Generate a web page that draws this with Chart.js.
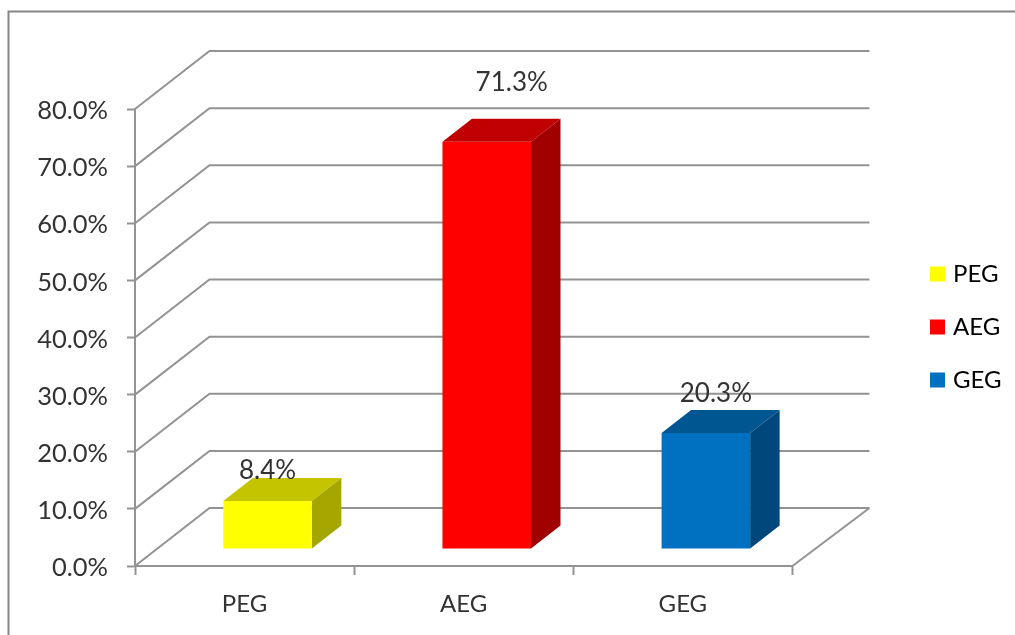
<!DOCTYPE html>
<html>
<head>
<meta charset="utf-8">
<title>PEG AEG GEG</title>
<script src="https://cdn.jsdelivr.net/npm/chart.js@4"></script>
<style>
  body { margin: 0; background: #fff; }
  canvas { display: block; }
</style>
</head>
<body>
<canvas id="myChart" width="1015" height="635"></canvas>
<script>
const categories = ['PEG', 'AEG', 'GEG'];
const values = [8.4, 71.3, 20.3];
const valueLabels = ['8.4%', '71.3%', '20.3%'];
const yTickLabels = ['0.0%', '10.0%', '20.0%', '30.0%', '40.0%', '50.0%', '60.0%', '70.0%', '80.0%'];

const frontColors = ['#ffff00', '#ff0000', '#0070c0'];
const topColors = ['#c4c400', '#c00000', '#005690'];
const sideColors = ['#a6a600', '#a00000', '#00487c'];

const fontName = 'Lato, "Open Sans", sans-serif';
const textColor = '#333333';
const lineColor = '#939393';

// the fake 3d: back wall offset, where the bars stand on the floor, and bar depth
const wall = { left: 74.5, right: 77, y: -58 };
const barShift = { x: 23, y: -17 };
const barDepth = { x: 29.5, y: -23 };
// the value labels do not sit the same distance from each bar in the original
const labelShiftX = [0, 25, 10];
const labelShiftY = [-30, -59, -39];

const cube3d = {
    id: 'cube3d',
    beforeDraw(chart) {
        // outer frame, only top and left are visible, the rest is cropped
        const ctx = chart.ctx;
        ctx.save();
        ctx.strokeStyle = '#868686';
        ctx.lineWidth = 2;
        ctx.beginPath();
        ctx.moveTo(8.5, chart.height);
        ctx.lineTo(8.5, 11.5);
        ctx.lineTo(chart.width, 11.5);
        ctx.stroke();
        ctx.restore();
    },
    beforeDatasetsDraw(chart) {
        const ctx = chart.ctx;
        const yScale = chart.scales.y;
        const area = chart.chartArea;
        ctx.save();
        ctx.strokeStyle = lineColor;
        ctx.lineWidth = 2;
        // side wall and back wall grid lines
        yScale.ticks.forEach(tick => {
            const y = yScale.getPixelForValue(tick.value);
            ctx.beginPath();
            ctx.moveTo(area.left, y);
            ctx.lineTo(area.left + wall.left, y + wall.y);
            ctx.lineTo(area.right + wall.right, y + wall.y);
            ctx.stroke();
        });
        // right edge of the floor
        const y0 = yScale.getPixelForValue(0);
        ctx.beginPath();
        ctx.moveTo(area.right, y0);
        ctx.lineTo(area.right + wall.right, y0 + wall.y);
        ctx.stroke();

        // top and side of each bar, the front is the real bar
        ctx.translate(barShift.x, barShift.y);
        chart.getDatasetMeta(0).data.forEach((bar, i) => {
            const left = bar.x - bar.width / 2;
            const right = bar.x + bar.width / 2;
            ctx.fillStyle = topColors[i];
            ctx.beginPath();
            ctx.moveTo(left, bar.y);
            ctx.lineTo(left + barDepth.x, bar.y + barDepth.y);
            ctx.lineTo(right + barDepth.x, bar.y + barDepth.y);
            ctx.lineTo(right, bar.y);
            ctx.closePath();
            ctx.fill();
            ctx.fillStyle = sideColors[i];
            ctx.beginPath();
            ctx.moveTo(right, bar.y);
            ctx.lineTo(right + barDepth.x, bar.y + barDepth.y);
            ctx.lineTo(right + barDepth.x, bar.base + barDepth.y);
            ctx.lineTo(right, bar.base);
            ctx.closePath();
            ctx.fill();
        });
    },
    afterDatasetsDraw(chart) {
        const ctx = chart.ctx;
        ctx.restore();
        // value labels
        ctx.save();
        ctx.font = '26px ' + fontName;
        ctx.fillStyle = textColor;
        ctx.textAlign = 'center';
        ctx.textBaseline = 'middle';
        chart.getDatasetMeta(0).data.forEach((bar, i) => {
            ctx.fillText(valueLabels[i], bar.x + barShift.x + labelShiftX[i], bar.y + barShift.y + labelShiftY[i]);
        });
        ctx.restore();
    },
    afterLayout(chart) {
        // put the legend where it is in the original, out to the right and a bit high
        const legend = chart.legend;
        legend.left = 905;
        legend.right = chart.width;
        legend.top = 233;
        legend.bottom = chart.height;
    }
};

const ctx = document.getElementById('myChart').getContext('2d');
const chart = new Chart(ctx, {
    type: 'bar',
    plugins: [cube3d],
    data: {
        labels: categories,
        datasets: [{
            data: values,
            backgroundColor: frontColors,
            borderWidth: 0,
            barPercentage: 0.404,
            categoryPercentage: 1
        }]
    },
    options: {
        responsive: false,
        animation: false,
        layout: { padding: { top: 109, right: 116, left: 0, bottom: 0 } },
        plugins: {
            tooltip: { enabled: false },
            legend: {
                position: 'right',
                align: 'start',
                labels: {
                    // point style keeps the 15px square but lets the text sit closer to it
                    usePointStyle: true,
                    pointStyle: 'rect',
                    boxWidth: 7,
                    boxHeight: 15,
                    padding: 29,
                    color: textColor,
                    font: { family: fontName, size: 24 },
                    generateLabels: () => categories.map((name, i) => ({
                        text: name,
                        fillStyle: frontColors[i],
                        strokeStyle: frontColors[i],
                        pointStyle: 'rect',
                        lineWidth: 0,
                        index: i
                    }))
                }
            }
        },
        scales: {
            x: {
                afterFit: scale => { scale.height = 69; },
                grid: { drawOnChartArea: false, tickLength: 9, tickColor: lineColor, tickWidth: 2 },
                border: { color: lineColor, width: 2 },
                ticks: {
                    color: textColor,
                    padding: 15,
                    maxRotation: 0,
                    font: { family: fontName, size: 24 }
                }
            },
            y: {
                min: 0,
                max: 80,
                afterFit: scale => { scale.width = 135; },
                grid: { drawOnChartArea: false, tickLength: 8, tickColor: lineColor, tickWidth: 2 },
                border: { color: lineColor, width: 2 },
                ticks: {
                    stepSize: 10,
                    color: textColor,
                    padding: 19,
                    labelOffset: 2,
                    font: { family: fontName, size: 25.5 },
                    callback: (value, i) => yTickLabels[i]
                }
            }
        }
    }
});
</script>
</body>
</html>
